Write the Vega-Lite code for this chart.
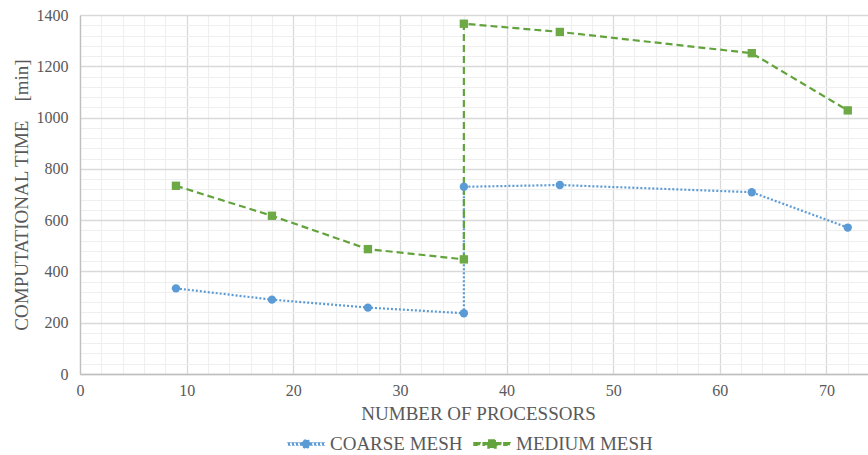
{
  "$schema": "https://vega.github.io/schema/vega-lite/v6.json",
  "width": 788,
  "height": 359,
  "autosize": {"type": "none"},
  "padding": {"left": 80, "top": 15, "right": 0, "bottom": 81},
  "background": "white",
  "config": {
    "view": {"stroke": null},
    "font": "Liberation Serif, Times New Roman, serif",
    "axis": {
      "labelFont": "Liberation Serif, Times New Roman, serif",
      "titleFont": "Liberation Serif, Times New Roman, serif",
      "labelColor": "#595959",
      "titleColor": "#595959",
      "labelFontSize": 16,
      "titleFontSize": 19,
      "titleFontWeight": "normal",
      "ticks": false,
      "labelFlush": false,
      "domainColor": "#BFBFBF",
      "domainWidth": 1.3
    }
  },
  "data": {
    "values": [
      {"series": "COARSE MESH", "seq": 1, "processors": 9, "time": 334},
      {"series": "COARSE MESH", "seq": 2, "processors": 18, "time": 290},
      {"series": "COARSE MESH", "seq": 3, "processors": 27, "time": 259},
      {"series": "COARSE MESH", "seq": 4, "processors": 36, "time": 237},
      {"series": "COARSE MESH", "seq": 5, "processors": 36, "time": 730},
      {"series": "COARSE MESH", "seq": 6, "processors": 45, "time": 737},
      {"series": "COARSE MESH", "seq": 7, "processors": 63, "time": 709},
      {"series": "COARSE MESH", "seq": 8, "processors": 72, "time": 571},
      {"series": "MEDIUM MESH", "seq": 1, "processors": 9, "time": 734},
      {"series": "MEDIUM MESH", "seq": 2, "processors": 18, "time": 617},
      {"series": "MEDIUM MESH", "seq": 3, "processors": 27, "time": 487},
      {"series": "MEDIUM MESH", "seq": 4, "processors": 36, "time": 447},
      {"series": "MEDIUM MESH", "seq": 5, "processors": 36, "time": 1366},
      {"series": "MEDIUM MESH", "seq": 6, "processors": 45, "time": 1334},
      {"series": "MEDIUM MESH", "seq": 7, "processors": 63, "time": 1251},
      {"series": "MEDIUM MESH", "seq": 8, "processors": 72, "time": 1028}
    ]
  },
  "resolve": {"axis": {"x": "independent", "y": "independent"}},
  "layer": [
    {
      "description": "minor gridlines",
      "mark": {"type": "point", "opacity": 0},
      "encoding": {
        "x": {
          "field": "processors", "type": "quantitative",
          "scale": {"domain": [0, 73.9], "nice": false, "zero": true},
          "axis": {
            "orient": "bottom", "values": [2,4,6,8,12,14,16,18,22,24,26,28,32,34,36,38,42,44,46,48,52,54,56,58,62,64,66,68,72],
            "grid": true, "gridColor": "#EFEFEF", "gridWidth": 1.2,
            "labels": false, "domain": false, "title": null
          }
        },
        "y": {
          "field": "time", "type": "quantitative",
          "scale": {"domain": [0, 1400], "nice": false},
          "axis": {
            "orient": "left", "values": [40,80,120,160,240,280,320,360,440,480,520,560,640,680,720,760,840,880,920,960,1040,1080,1120,1160,1240,1280,1320,1360],
            "grid": true, "gridColor": "#EFEFEF", "gridWidth": 1.2,
            "labels": false, "domain": false, "title": null
          }
        }
      }
    },
    {
      "description": "tiny marks hidden under the markers; they carry the legend, whose symbols are filled paths: a dotted or dashed stub either side of the marker",
      "mark": {"type": "point", "filled": true, "size": 1, "opacity": 1},
      "encoding": {
        "x": {"field": "processors", "type": "quantitative", "axis": null},
        "y": {"field": "time", "type": "quantitative", "axis": null},
        "color": {
          "field": "series", "type": "nominal",
          "scale": {"domain": ["COARSE MESH", "MEDIUM MESH"], "range": ["#5B9BD5", "#62A33C"]},
          "legend": {
            "title": null, "orient": "none", "direction": "horizontal",
            "legendX": 207, "legendY": 410,
            "symbolSize": 1296, "symbolOpacity": 1,
            "labelFont": "Liberation Serif, Times New Roman, serif",
            "labelFontSize": 19, "labelColor": "#595959",
            "labelOffset": 5, "columnPadding": 8
          }
        },
        "shape": {
          "field": "series", "type": "nominal",
          "scale": {
            "domain": ["COARSE MESH", "MEDIUM MESH"],
            "range": [
              "M-1,-0.06H-0.89V0.06H-1ZM-0.78,-0.06H-0.67V0.06H-0.78ZM-0.56,-0.06H-0.45V0.06H-0.56ZM-0.34,-0.06H-0.23V0.06H-0.34ZM0.23,-0.06H0.34V0.06H0.23ZM0.45,-0.06H0.56V0.06H0.45ZM0.67,-0.06H0.78V0.06H0.67ZM0.89,-0.06H1V0.06H0.89ZM-0.23,0A0.23,0.23,0,1,1,0.23,0A0.23,0.23,0,1,1,-0.23,0Z",
              "M-1,-0.07H-0.66V0.07H-1ZM-0.49,-0.07H-0.2V0.07H-0.49ZM0.2,-0.07H0.49V0.07H0.2ZM0.66,-0.07H1V0.07H0.66ZM-0.22,-0.22H0.22V0.22H-0.22Z"
            ]
          },
          "legend": {
            "title": null, "orient": "none", "direction": "horizontal",
            "legendX": 207, "legendY": 410,
            "symbolSize": 1296, "symbolOpacity": 1,
            "labelFont": "Liberation Serif, Times New Roman, serif",
            "labelFontSize": 19, "labelColor": "#595959",
            "labelOffset": 5, "columnPadding": 8
          }
        }
      }
    },
    {
      "description": "connecting lines",
      "mark": {"type": "line", "strokeWidth": 2.2},
      "encoding": {
        "x": {
          "field": "processors", "type": "quantitative",
          "scale": {"domain": [0, 73.9], "nice": false},
          "axis": {
            "orient": "bottom", "values": [0,10,20,30,40,50,60,70],
            "grid": true, "gridColor": "#D9D9D9", "gridWidth": 1.3,
            "labelPadding": 8,
            "title": "NUMBER OF PROCESSORS", "titlePadding": 6,
            "titleX": 398, "titleAlign": "center"
          }
        },
        "y": {
          "field": "time", "type": "quantitative",
          "scale": {"domain": [0, 1400], "nice": false},
          "axis": {
            "orient": "left", "values": [0,200,400,600,800,1000,1200,1400],
            "format": "d",
            "grid": true, "gridColor": "#D9D9D9", "gridWidth": 1.3,
            "labelPadding": 12,
            "title": "COMPUTATIONAL TIME\u00a0\u00a0\u00a0\u00a0[min]", "titlePadding": 5
          }
        },
        "order": {"field": "seq", "type": "quantitative"},
        "color": {"field": "series", "type": "nominal"},
        "strokeDash": {
          "field": "series", "type": "nominal",
          "scale": {"domain": ["COARSE MESH", "MEDIUM MESH"], "range": [[2, 2], [7, 4]]},
          "legend": null
        }
      }
    },
    {
      "description": "coarse mesh markers",
      "transform": [{"filter": "datum.series === 'COARSE MESH'"}],
      "mark": {"type": "point", "shape": "circle", "filled": true, "opacity": 1, "size": 70, "color": "#5B9BD5"},
      "encoding": {
        "x": {"field": "processors", "type": "quantitative", "axis": null},
        "y": {"field": "time", "type": "quantitative", "axis": null}
      }
    },
    {
      "description": "medium mesh markers",
      "transform": [{"filter": "datum.series === 'MEDIUM MESH'"}],
      "mark": {"type": "point", "shape": "square", "filled": true, "opacity": 1, "size": 70, "color": "#6DAA45"},
      "encoding": {
        "x": {"field": "processors", "type": "quantitative", "axis": null},
        "y": {"field": "time", "type": "quantitative", "axis": null}
      }
    }
  ]
}
